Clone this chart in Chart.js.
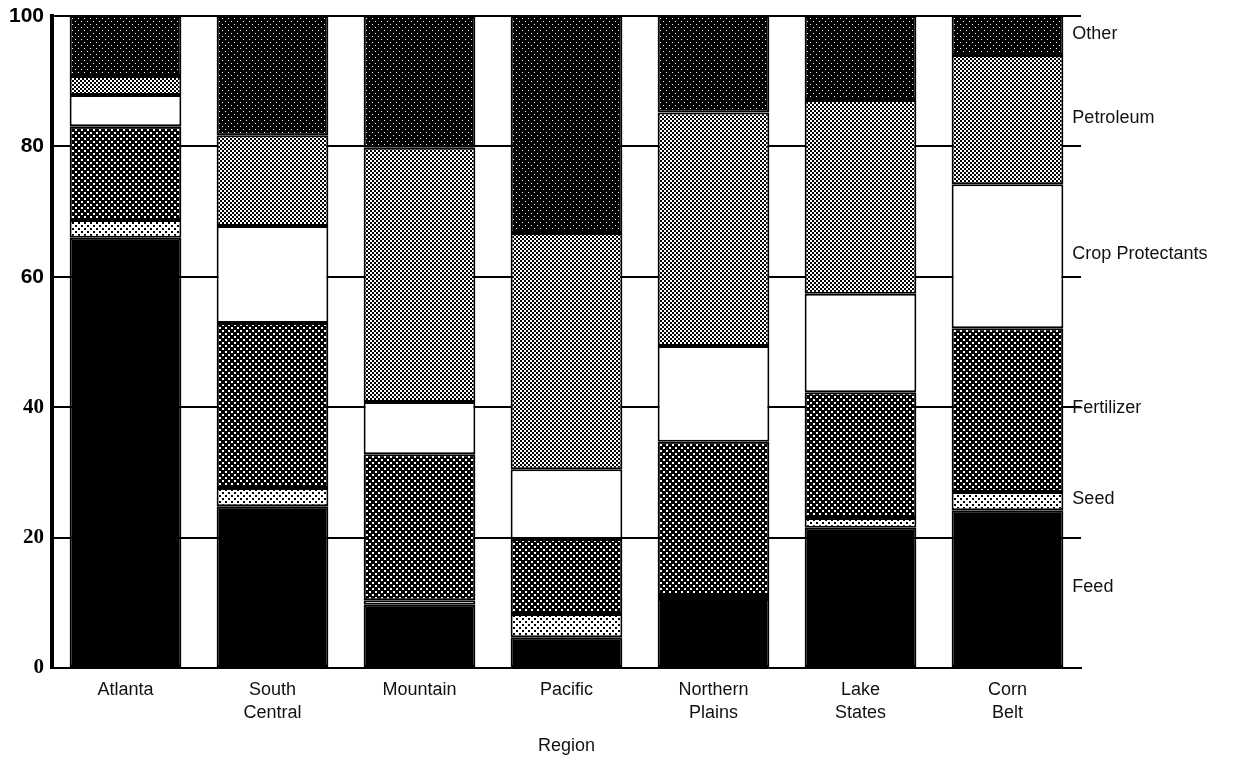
<!DOCTYPE html>
<html>
<head>
<meta charset="utf-8">
<script src="https://cdn.jsdelivr.net/npm/chart.js@4/dist/chart.umd.min.js"></script>
<style>
html,body{margin:0;padding:0;background:#fff;}
#wrap{width:1249px;height:757px;}
</style>
</head>
<body>
<div id="wrap"><canvas id="c" width="1249" height="757"></canvas></div>
<script>
const regions = [["Atlanta"], ["South", "Central"], ["Mountain"], ["Pacific"], ["Northern", "Plains"], ["Lake", "States"], ["Corn", "Belt"]];
const feed       = [66.0, 24.8,  9.7,  4.7, 10.6, 21.5, 24.2];
const seed       = [ 2.7,  2.8,  0.7,  3.6,  0.6,  1.5,  2.8];
const fertilizer = [14.4, 25.3, 22.4, 11.5, 23.5, 19.3, 25.1];
const cropProt   = [ 4.8, 14.9,  8.0, 10.7, 14.7, 15.1, 22.1];
const petroleum  = [ 2.9, 13.9, 39.0, 36.2, 35.8, 29.7, 19.8];
const other      = [ 9.2, 18.3, 20.2, 33.3, 14.8, 12.9,  6.0];
const seriesNames = ["Feed", "Seed", "Fertilizer", "Crop Protectants", "Petroleum", "Other"];
const yTicks = [0, 20, 40, 60, 80, 100];

function makePattern(size, bg, fg, dots) {
  const c = document.createElement('canvas');
  c.width = size; c.height = size;
  const g = c.getContext('2d');
  g.fillStyle = bg; g.fillRect(0, 0, size, size);
  g.fillStyle = fg;
  dots.forEach(d => g.fillRect(d[0], d[1], d[2], d[2]));
  return g.createPattern(c, 'repeat');
}
const ctx = document.getElementById('c').getContext('2d');
const fills = [
  '#000000',
  makePattern(6, '#ffffff', '#000000', [[0,0,2],[3,3,2]]),
  makePattern(6, '#000000', '#ffffff', [[0,0,2],[3,3,2]]),
  '#ffffff',
  makePattern(4, '#ffffff', '#000000', [[0,0,2],[2,2,2]]),
  makePattern(6, '#000000', '#ffffff', [[0,0,1],[3,3,1]])
];
const allSeries = [feed, seed, fertilizer, cropProt, petroleum, other];

const rightLabels = {
  id: 'rightLabels',
  afterDatasetsDraw(chart) {
    const g = chart.ctx;
    g.save();
    g.font = '18px "Liberation Sans", Arial, sans-serif';
    g.fillStyle = '#111';
    g.textBaseline = 'middle';
    g.textAlign = 'left';
    const last = regions.length - 1;
    chart.data.datasets.forEach((ds, i) => {
      const el = chart.getDatasetMeta(i).data[last];
      const ymid = (el.y + el.base) / 2;
      g.fillText(ds.label, el.x + el.width / 2 + 9, ymid - 2);
    });
    g.restore();
  }
};

new Chart(ctx, {
  type: 'bar',
  data: {
    labels: regions,
    datasets: allSeries.map((s, i) => ({
      label: seriesNames[i],
      data: s,
      backgroundColor: fills[i],
      borderColor: '#000',
      borderWidth: 2,
      borderSkipped: false,
      barPercentage: 0.76,
      categoryPercentage: 1.0
    }))
  },
  options: {
    responsive: false,
    animation: false,
    layout: { padding: { top: 16, right: 168, left: 0, bottom: 0 } },
    plugins: { legend: { display: false }, tooltip: { enabled: false } },
    scales: {
      x: {
        stacked: true,
        grid: { display: false },
        border: { display: true, color: '#000', width: 2 },
        ticks: {
          color: '#111',
          padding: 2,
          maxRotation: 0,
          font: { family: '"Liberation Sans", Arial, sans-serif', size: 18, lineHeight: 1.3 }
        },
        title: {
          display: true, text: 'Region', color: '#111',
          font: { family: '"Liberation Sans", Arial, sans-serif', size: 18 },
          padding: { top: 10, bottom: 0 }
        },
        afterFit(scale) { scale.height = 89; scale.paddingLeft = 0; scale.paddingRight = 0; }
      },
      y: {
        stacked: true,
        min: 0, max: 100,
        afterBuildTicks(scale) { scale.ticks = yTicks.map(v => ({ value: v })); },
        grid: { color: '#000', lineWidth: 2, drawTicks: false },
        border: { display: true, color: '#000', width: 4 },
        ticks: {
          color: '#000',
          padding: 8,
          font: (c) => (c.tick && c.tick.value >= 60)
            ? { family: '"Liberation Sans", Arial, sans-serif', size: 21, weight: 'bold' }
            : { family: '"Liberation Serif", "DejaVu Serif", serif', size: 21, weight: 'bold' }
        },
        afterFit(scale) { scale.width = 52; scale.paddingTop = 0; scale.paddingBottom = 0; }
      }
    }
  },
  plugins: [rightLabels]
});
</script>
</body>
</html>
